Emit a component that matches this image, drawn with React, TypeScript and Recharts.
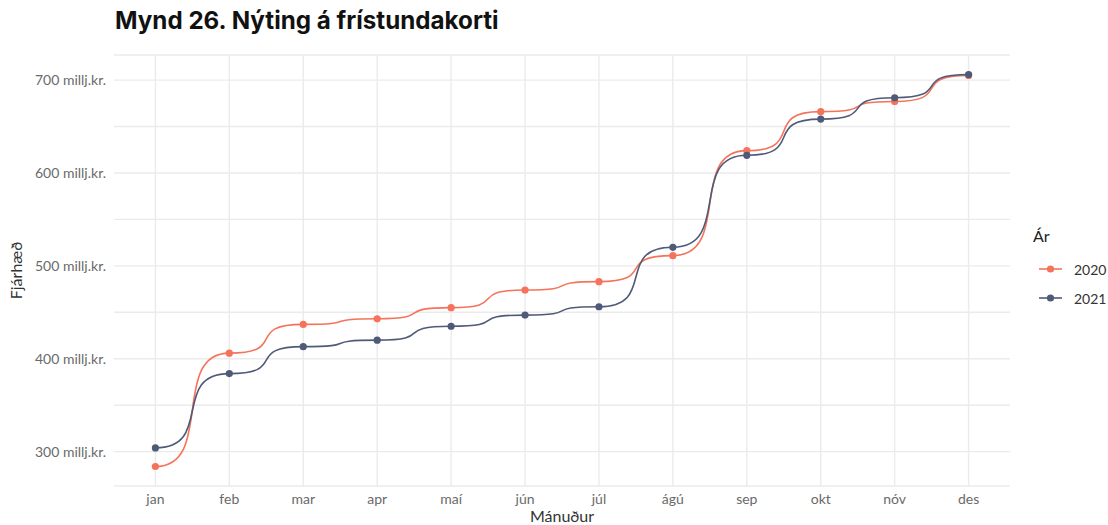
import { LineChart, Line, XAxis, YAxis, CartesianGrid, Label } from "recharts";

// Mánuðir og uppsöfnuð fjárhæð (millj.kr.)
const months = ["jan", "feb", "mar", "apr", "maí", "jún", "júl", "ágú", "sep", "okt", "nóv", "des"];
const values2020 = [284, 406, 437, 443, 455, 474, 483, 511, 624, 666, 677, 705];
const values2021 = [304, 384, 413, 420, 435, 447, 456, 520, 619, 658, 681, 706];
const yTicks = [300, 350, 400, 450, 500, 550, 600, 650, 700];
const majorTicks = [300, 400, 500, 600, 700];

const ORANGE = "#F5735A";
const SLATE = "#4F5A78";
const FONT = "Lato, 'Open Sans', sans-serif";

const series = [
  { key: "y2020", name: "2020", color: ORANGE },
  { key: "y2021", name: "2021", color: SLATE },
];

const data = months.map((m, i) => ({ idx: i, month: m, y2020: values2020[i], y2021: values2021[i] }));

// flat-at-each-point spline (zero slope at every observation)
const K = 0.8;
function flatCurve(context: any) {
  let x0 = 0;
  let y0 = 0;
  let n = 0;
  return {
    areaStart() {},
    areaEnd() {},
    lineStart() {
      n = 0;
    },
    lineEnd() {},
    point(x: number, y: number) {
      x = +x;
      y = +y;
      if (n === 0) context.moveTo(x, y);
      else {
        const dx = x - x0;
        context.bezierCurveTo(x0 + K * dx, y0, x - K * dx, y, x, y);
      }
      n++;
      x0 = x;
      y0 = y;
    },
  };
}

export default function App() {
  return (
    <div style={{ position: "absolute", left: 0, top: 0, width: 1108, height: 525, background: "#fff", fontFamily: FONT }}>
      <div
        style={{
          position: "absolute",
          left: 115,
          top: 6,
          fontSize: 24.2,
          fontWeight: 700,
          color: "#111",
          fontFamily: "Inter, sans-serif",
        }}
      >
        Mynd 26. Nýting á frístundakorti
      </div>
      <LineChart width={1108} height={525} data={data} margin={{ top: 55, right: 98, bottom: 9, left: 14 }}>
        <CartesianGrid stroke="#EBEBEB" strokeWidth={1.4} verticalValues={months.map((_, i) => i)} />
        <XAxis
          dataKey="idx"
          type="number"
          domain={[-0.56, 11.56]}
          ticks={months.map((_, i) => i)}
          tickFormatter={(v: number) => months[v] ?? ""}
          axisLine={false}
          tickLine={false}
          tickSize={0}
          tickMargin={8}
          height={30}
          tick={{ fill: "#6a6a6a", fontSize: 14, fontFamily: FONT }}
          interval={0}
        >
          <Label value="Mánuður" position="insideBottom" offset={-6} fill="#333" fontSize={16} fontFamily={FONT} />
        </XAxis>
        <YAxis
          type="number"
          domain={[263, 727]}
          ticks={yTicks}
          tickFormatter={(v: number) => (majorTicks.includes(v) ? `${v} millj.kr.` : "")}
          axisLine={false}
          tickLine={false}
          tickSize={0}
          tickMargin={8}
          width={100}
          tick={{ fill: "#6a6a6a", fontSize: 14, fontFamily: FONT }}
          interval={0}
        >
          <Label
            value="Fjárhæð"
            angle={-90}
            position="insideLeft"
            offset={2}
            fill="#333"
            fontSize={16}
            fontFamily={FONT}
            style={{ textAnchor: "middle" }}
          />
        </YAxis>
        {series.map((s) => (
          <Line
            key={s.key}
            dataKey={s.key}
            name={s.name}
            type={flatCurve as any}
            stroke={s.color}
            strokeWidth={1.6}
            dot={{ r: 3.6, fill: s.color, stroke: s.color, strokeWidth: 0 }}
            activeDot={false}
            isAnimationActive={false}
          />
        ))}
      </LineChart>
      <div style={{ position: "absolute", left: 1033, top: 226, fontSize: 16, color: "#222" }}>Ár</div>
      {series.map((s, i) => (
        <div
          key={s.key}
          style={{ position: "absolute", left: 1038, top: 260 + i * 29, display: "flex", alignItems: "center", height: 18 }}
        >
          <svg width={26} height={18}>
            <line x1={1} y1={9} x2={24} y2={9} stroke={s.color} strokeWidth={1.6} />
            <circle cx={12.5} cy={9} r={3.6} fill={s.color} />
          </svg>
          <span style={{ marginLeft: 10, fontSize: 14, color: "#333" }}>{s.name}</span>
        </div>
      ))}
    </div>
  );
}
